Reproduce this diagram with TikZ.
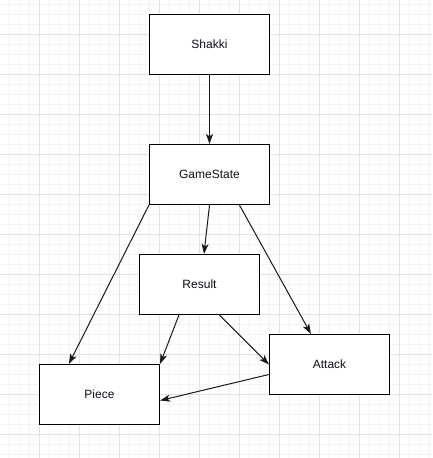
\documentclass[tikz,border=0pt]{standalone}
\usepackage{fontspec}
\setmainfont{Liberation Sans}
\usetikzlibrary{arrows.meta,calc}
\definecolor{gridminor}{HTML}{F4F4F4}
\definecolor{gridmajor}{HTML}{E2E2E2}
\definecolor{labeltext}{HTML}{10101A}
\tikzset{
  box/.style={draw=black, line width=1.2pt, fill=white, minimum width=120pt, minimum height=60pt, inner sep=0pt, font=\fontsize{12pt}{14pt}\selectfont, text=labeltext},
  conn/.style={draw=black!90, line width=1pt, -{Stealth[length=10pt,width=7pt,inset=2.5pt]}},
  gminor/.style={draw=gridminor, line width=1pt},
  gmajor/.style={draw=gridmajor, line width=1pt}
}
\begin{document}
\begin{tikzpicture}[x=1pt,y=-1pt]
\useasboundingbox (0,0) rectangle (432,458);
\fill[white] (0,0) rectangle (432,458);
% grid
\foreach \k in {0,...,43} {\draw[gminor] (\k*10-0.3,0) -- (\k*10-0.3,458);}
\foreach \k in {-1,...,45} {\draw[gminor] (0,\k*10+4.3) -- (432,\k*10+4.3);}
\foreach \k in {1,...,10} {\draw[gmajor] (\k*40-0.3,0) -- (\k*40-0.3,458);}
\foreach \k in {0,...,10} {\draw[gmajor] (0,\k*40+34.3) -- (432,\k*40+34.3);}
% nodes
\node[box] (shakki) at (209.5,44.5) {Shakki};
\node[box] (gs) at (209.5,174.5) {GameState};
\node[box] (result) at (199.5,284.5) {Result};
\node[box] (piece) at (99.5,394.5) {Piece};
\node[box] (attack) at (329.5,364.5) {Attack};
% connectors
\draw[conn] (shakki.south) -- (gs.north);
\draw[conn] (gs.south) -- ($(result.north)+(4.5,0)$);
\draw[conn] (gs.south west) -- ($(piece.north west)+(30,0)$);
\draw[conn] ($(gs.south)+(30,0)$) -- ($(attack.north west)+(42,0)$);
\draw[conn] ($(result.south west)+(40,0)$) -- (piece.north east);
\draw[conn] ($(result.south)+(20,0)$) -- (attack.west);
\draw[conn] ($(attack.west)+(0,10)$) -- ($(piece.east)+(0,6)$);
\end{tikzpicture}
\end{document}
